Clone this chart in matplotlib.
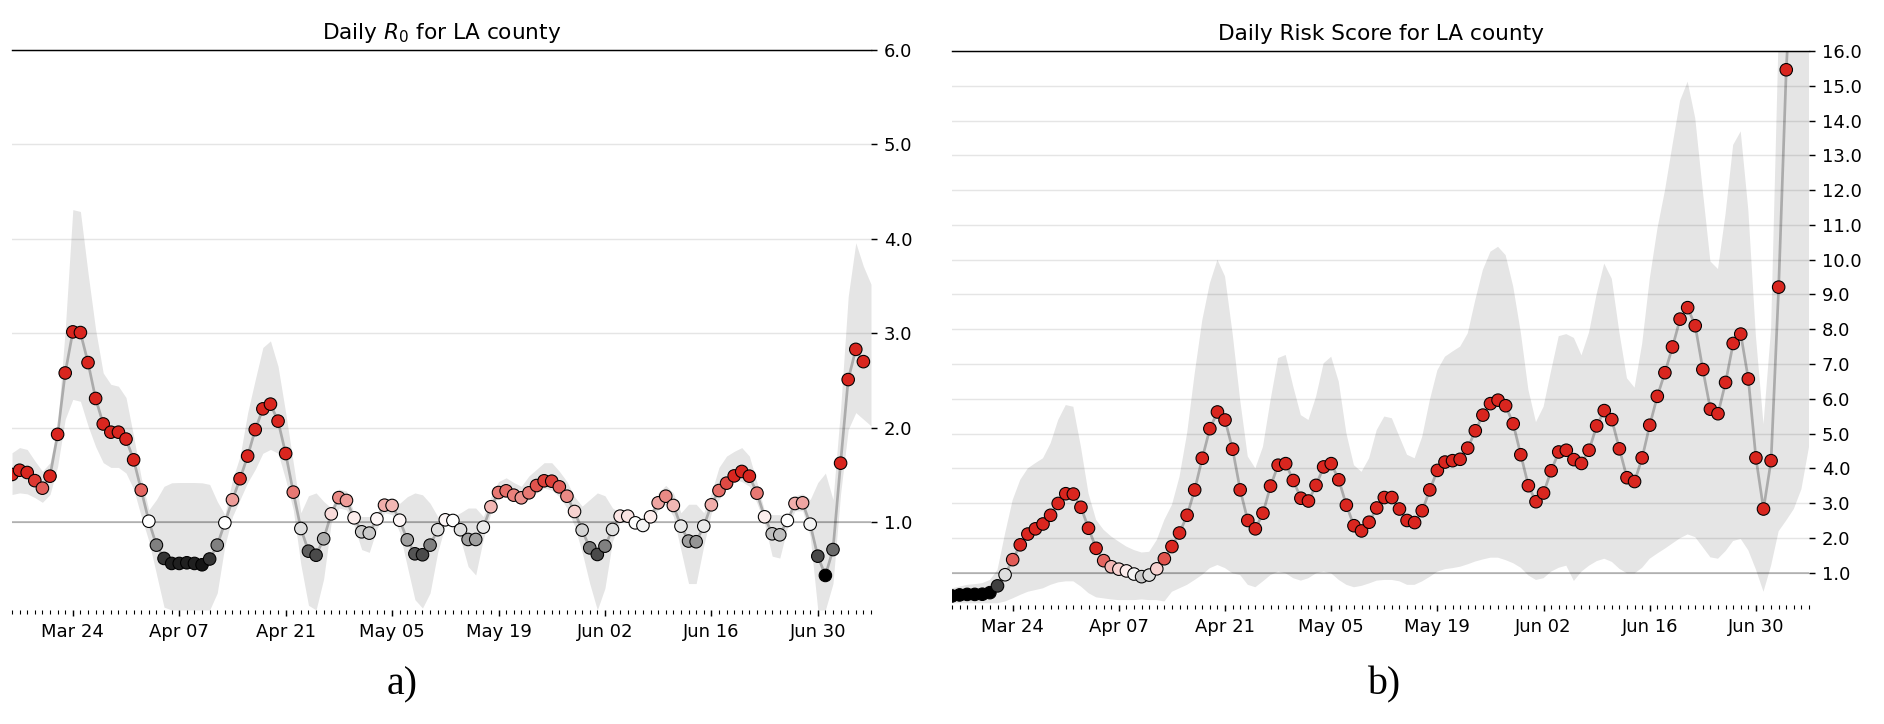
import numpy as np
import pandas as pd
import matplotlib
matplotlib.use("Agg")
import matplotlib.pyplot as plt
import matplotlib.dates as mdates
import matplotlib.ticker as ticker
from matplotlib.colors import ListedColormap

# ---------------- data ----------------
dates = pd.date_range("2020-03-16", "2020-07-06", freq="D")        # 113 daily points
band_dates = pd.date_range("2020-03-16", "2020-07-07", freq="D")   # band extended one day
tick_dates = pd.date_range("2020-03-24", periods=8, freq="14D")

r0_values = [
    1.505, 1.55, 1.526, 1.44, 1.36, 1.487, 1.93, 2.58, 3.015, 3.008, 2.69, 2.31, 2.04,
    1.953, 1.953, 1.88, 1.66, 1.34, 1.01, 0.757, 0.616, 0.563, 0.563, 0.57, 0.563, 0.549,
    0.61, 0.757, 0.993, 1.237, 1.46, 1.70, 1.98, 2.20, 2.25, 2.07, 1.727, 1.318, 0.933,
    0.693, 0.65, 0.824, 1.088, 1.26, 1.23, 1.046, 0.898, 0.884, 1.035, 1.18, 1.177, 1.021,
    0.813, 0.665, 0.655, 0.757, 0.92, 1.025, 1.018, 0.92, 0.817, 0.817, 0.947, 1.163, 1.314,
    1.332, 1.286, 1.258, 1.311, 1.388, 1.438, 1.434, 1.374, 1.275, 1.113, 0.916, 0.728,
    0.658, 0.746, 0.923, 1.064, 1.064, 0.993, 0.965, 1.057, 1.205, 1.275, 1.177, 0.958,
    0.80, 0.793, 0.958, 1.184, 1.335, 1.413, 1.49, 1.537, 1.487, 1.307, 1.057, 0.877, 0.866,
    1.018, 1.198, 1.205, 0.979, 0.64, 0.436, 0.71, 1.625, 2.51, 2.83, 2.70,
]
r0_high = [
    1.735, 1.79, 1.77, 1.65, 1.54, 1.63, 2.02, 3.04, 4.31, 4.29, 3.64, 3.04, 2.58, 2.46,
    2.44, 2.32, 1.91, 1.47, 1.13, 1.24, 1.38, 1.417, 1.42, 1.42, 1.42, 1.417, 1.40, 1.22,
    1.08, 1.45, 1.70, 2.16, 2.51, 2.85, 2.92, 2.65, 2.16, 1.63,
    1.10, 1.28, 1.31, 1.22, 1.15, 1.35, 1.33, 1.10, 1.06, 1.06, 1.10, 1.24, 1.24, 1.20,
    1.27, 1.31, 1.29, 1.20, 1.06, 1.06, 1.06, 1.10, 1.15, 1.15, 1.06, 1.27, 1.43, 1.47,
    1.42, 1.38, 1.49, 1.56, 1.63, 1.63, 1.54, 1.43, 1.27, 1.17, 1.24,
    1.31, 1.28, 1.15, 1.10, 1.10, 1.05, 1.02, 1.10, 1.31, 1.39, 1.31, 1.10, 1.19, 1.19,
    1.10, 1.31, 1.58, 1.70, 1.75, 1.79, 1.70, 1.42, 1.12, 1.08, 1.08, 1.05, 1.28, 1.30,
    1.24, 1.42, 1.52, 1.24, 2.2, 3.39, 3.96, 3.71, 3.52,
]
r0_low = [
    1.293, 1.31, 1.30, 1.26, 1.21, 1.293, 1.59, 2.09, 2.30, 2.28, 2.02, 1.80, 1.63, 1.58,
    1.58, 1.52, 1.35, 1.06, 0.80, 0.45, 0.10, 0.07, 0.07, 0.07, 0.07, 0.07, 0.07, 0.25,
    0.75, 1.06, 1.24, 1.42, 1.56, 1.73, 1.77, 1.73, 1.45, 1.13,
    0.55, 0.12, 0.07, 0.40, 1.0, 1.15, 1.13, 0.96, 0.71, 0.68, 0.93, 1.10, 1.08, 0.89,
    0.53, 0.18, 0.09, 0.25, 0.68, 0.97, 0.97, 0.82, 0.53, 0.44, 0.82, 1.10, 1.29, 1.27,
    1.24, 1.20, 1.24, 1.31, 1.36, 1.34, 1.27, 1.15, 0.96, 0.68, 0.35,
    0.07, 0.30, 0.80, 1.0, 1.0, 0.95, 0.92, 1.0, 1.13, 1.19, 1.06, 0.70, 0.35, 0.35,
    0.75, 1.10, 1.24, 1.35, 1.45, 1.43, 1.38, 1.20, 0.98, 0.64, 0.62, 0.94, 1.12, 1.12,
    0.85, 0.07, 0.07, 0.35, 1.3, 1.98, 2.16, 2.09, 2.02,
]

risk_values = [
    0.33, 0.36, 0.375, 0.375, 0.38, 0.425, 0.62, 0.94, 1.374, 1.80, 2.11, 2.26, 2.40, 2.65,
    2.99, 3.27, 3.26, 2.88, 2.277, 1.70, 1.345, 1.17, 1.10, 1.05, 0.96, 0.885, 0.93, 1.11,
    1.40, 1.75, 2.14, 2.65, 3.38, 4.29, 5.14, 5.62, 5.39, 4.55,
    3.38, 2.50, 2.26, 2.71, 3.49, 4.09, 4.135, 3.65, 3.14, 3.06, 3.51, 4.04, 4.135, 3.67,
    2.94, 2.35, 2.20, 2.45, 2.86, 3.16, 3.16, 2.83, 2.50, 2.44, 2.78, 3.38, 3.94, 4.18,
    4.22, 4.26, 4.58, 5.08, 5.53, 5.86, 5.96, 5.80, 5.28,
    4.39, 3.50, 3.04, 3.29, 3.93, 4.47, 4.52, 4.25, 4.14, 4.52, 5.22, 5.66, 5.40, 4.56,
    3.73, 3.62, 4.30, 5.24, 6.07, 6.75, 7.49, 8.29, 8.62, 8.10, 6.84, 5.70, 5.57, 6.47,
    7.59, 7.86, 6.57, 4.30, 2.83, 4.22, 9.21, 15.46, 19.6, 22.0,
]
risk_high = [
    0.55, 0.60, 0.65, 0.67, 0.70, 0.79, 1.08, 2.13, 3.09, 3.67, 4.0, 4.15, 4.29, 4.72,
    5.39, 5.82, 5.77, 4.62, 3.28, 2.52, 2.23, 2.04, 1.89, 1.75, 1.65, 1.58, 1.60, 1.94,
    2.52, 2.95, 3.76, 5.01, 6.73, 8.26, 9.32, 10.0, 9.52, 7.88,
    5.96, 4.34, 4.0, 4.62, 5.96, 7.17, 7.26, 6.35, 5.53, 5.39, 6.06, 7.02, 7.21, 6.49,
    5.01, 4.09, 3.90, 4.29, 5.10, 5.49, 5.44, 4.91, 4.39, 4.29, 4.91, 5.96, 6.82, 7.21,
    7.36, 7.50, 7.88, 8.84, 9.71, 10.23, 10.37, 10.13, 9.23,
    7.91, 6.26, 5.33, 5.77, 6.81, 7.80, 7.86, 7.75, 7.25, 7.91, 9.01, 9.89, 9.45, 7.91,
    6.59, 6.32, 7.58, 9.45, 10.88, 11.98, 13.30, 14.57, 15.12, 14.07, 11.98, 9.95, 9.73,
    11.32, 13.30, 13.69, 11.43, 7.80, 5.27, 8.0, 16.5, 25.0, 30.0, 32.0, 33.0,
]
risk_low = [
    0.12, 0.12, 0.12, 0.12, 0.12, 0.12, 0.12, 0.17, 0.26, 0.36, 0.45, 0.50, 0.55, 0.65,
    0.72, 0.75, 0.75, 0.60, 0.41, 0.29, 0.26, 0.23, 0.21, 0.21, 0.21, 0.23, 0.21, 0.21,
    0.17, 0.45, 0.55, 0.65, 0.79, 0.94, 1.13, 1.22, 1.13, 0.98,
    0.93, 0.65, 0.58, 0.75, 0.93, 1.03, 0.98, 0.84, 0.77, 0.84, 0.98, 1.03, 0.98, 0.79,
    0.65, 0.58, 0.62, 0.69, 0.77, 0.79, 0.79, 0.75, 0.65, 0.65, 0.75, 0.88, 1.03, 1.10,
    1.13, 1.17, 1.24, 1.32, 1.38, 1.43, 1.43, 1.36, 1.27,
    1.14, 0.92, 0.79, 0.84, 1.03, 1.14, 1.20, 0.76, 1.03, 1.20, 1.33, 1.40, 1.31, 1.11,
    0.98, 0.98, 1.14, 1.40, 1.55, 1.69, 1.84, 1.99, 2.10, 2.02, 1.73, 1.44, 1.40, 1.62,
    1.91, 1.97, 1.64, 1.09, 0.45, 1.20, 2.19, 2.50, 2.83, 3.40, 4.61,
]

titles = ["Daily $R_0$ for LA county", "Daily Risk Score for LA county"]
panel_labels = ["a)", "b)"]

# ---------------- style ----------------
ABOVE = [0.85, 0.15, 0.12]
MIDDLE = [1, 1, 1]
BELOW = [0, 0, 0]
cmap = ListedColormap(np.r_[np.linspace(BELOW, MIDDLE, 25), np.linspace(MIDDLE, ABOVE, 25)])


def color_mapped(y):
    return np.clip(np.asarray(y), .5, 1.5) - .5


def draw(ax, values, low, high, ymax, title):
    ax.set_title(title, fontsize=12)
    ax.fill_between(band_dates, low, high, color='k', alpha=.1, lw=0, zorder=1)
    ax.axhline(1.0, c='k', lw=1, alpha=.25, zorder=1.5)
    ax.plot(dates, values, c='k', alpha=.25, zorder=2)
    ax.scatter(dates, values, s=48, lw=.6, c=cmap(color_mapped(values)),
               edgecolors='k', zorder=3)
    ax.set_xticks(tick_dates)
    ax.xaxis.set_major_formatter(mdates.DateFormatter('%b %d'))
    ax.xaxis.set_minor_locator(mdates.DayLocator())
    ax.yaxis.set_major_locator(ticker.MultipleLocator(1))
    ax.yaxis.set_major_formatter(ticker.StrMethodFormatter("{x:.1f}"))
    ax.yaxis.tick_right()
    for s in ('left', 'bottom', 'right'):
        ax.spines[s].set_visible(False)
    ax.grid(which='major', axis='y', c='k', alpha=.1, zorder=0)
    ax.set_axisbelow(True)
    ax.set_ylim(0.07, ymax)
    ax.set_xlim(band_dates[0], band_dates[-1])


W, H = 1884, 724
fig = plt.figure(figsize=(W / 130, H / 130), dpi=130)
fig.set_facecolor('w')
axL = fig.add_axes([12 / W, 114 / H, 859 / W, 560 / H])
axR = fig.add_axes([952 / W, 119 / H, 857 / W, 554 / H])

draw(axL, r0_values, r0_low, r0_high, 6.0, titles[0])
draw(axR, risk_values, risk_low, risk_high, 16.0, titles[1])

fig.text(402 / W, 1 - 685 / H, panel_labels[0], ha='center', va='center',
         fontsize=22, family='Liberation Serif')
fig.text(1384 / W, 1 - 685 / H, panel_labels[1], ha='center', va='center',
         fontsize=22, family='Liberation Serif')

fig.savefig("out.png", dpi=130, facecolor='w')
